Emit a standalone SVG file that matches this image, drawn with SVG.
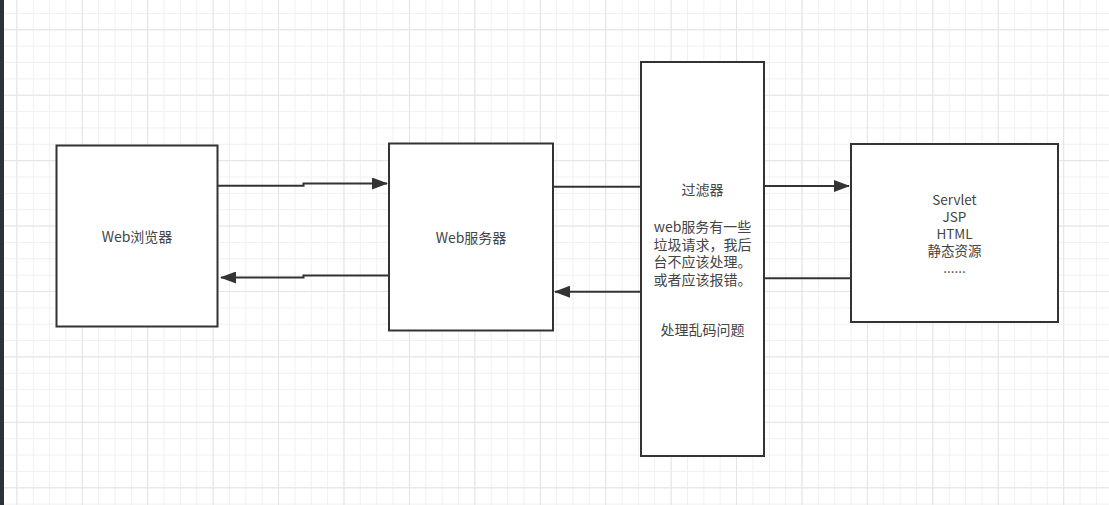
<svg xmlns="http://www.w3.org/2000/svg" width="1109" height="505" viewBox="0 0 1109 505">
<style>
.box{fill:#fff;stroke:#333;stroke-width:2}
.ln{fill:none;stroke:#333;stroke-width:2}
.t{font-family:"Noto Sans CJK SC","Microsoft YaHei",sans-serif;font-size:14px;fill:#444;text-anchor:middle}
.s{font-size:13.5px}
</style>
<defs>
<pattern id="minor" patternUnits="userSpaceOnUse" x="0" y="12.95" width="16.357" height="16.357">
<path d="M0 0.5H16.357M0.5 0V16.357" fill="none" stroke="#f0f0f0" stroke-width="1"/>
</pattern>
<pattern id="major" patternUnits="userSpaceOnUse" x="16.357" y="29.3" width="65.428" height="65.428">
<path d="M0 0.5H65.428M0.5 0V65.428" fill="none" stroke="#e4e4e4" stroke-width="1"/>
</pattern>
<marker id="ah" markerUnits="userSpaceOnUse" markerWidth="16" markerHeight="12" refX="15" refY="6" orient="auto">
<path d="M0 0L16 6L0 12Z" fill="#333"/>
</marker>
</defs>
<rect width="1109" height="505" fill="#fff"/>
<rect width="1109" height="505" fill="url(#minor)"/>
<rect width="1109" height="505" fill="url(#major)"/>
<rect x="0" y="0" width="4" height="505" fill="#2d3236"/>
<g id="connectors">
<path class="ln" d="M218 185.7H303.5V183.5H387" marker-end="url(#ah)"/>
<path class="ln" d="M389 275.5H303.5V277.5H221" marker-end="url(#ah)"/>
<path class="ln" d="M553 186.7H641"/>
<path class="ln" d="M764 186H849" marker-end="url(#ah)"/>
<path class="ln" d="M851 278.3H764"/>
<path class="ln" d="M641 291.7H555" marker-end="url(#ah)"/>
</g>
<g id="browser">
<rect class="box" x="56.5" y="145.5" width="161" height="181"/>
<text class="t" x="137" y="242">Web浏览器</text>
</g>
<g id="server">
<rect class="box" x="389" y="143.5" width="164" height="187"/>
<text class="t" x="471" y="243">Web服务器</text>
</g>
<g id="filter">
<rect class="box" x="641" y="62" width="123" height="394"/>
<text class="t" x="702.5" y="195">过滤器</text>
<text class="t" x="702.5" y="232">web服务有一些</text>
<text class="t" x="702.5" y="249.5">垃圾请求，我后</text>
<text class="t" x="702.5" y="267">台不应该处理。</text>
<text class="t" x="702.5" y="284.5">或者应该报错。</text>
<text class="t" x="702.5" y="335">处理乱码问题</text>
</g>
<g id="resources">
<rect class="box" x="851" y="144" width="207" height="178"/>
<text class="t s" x="954.5" y="205">Servlet</text>
<text class="t s" x="954.5" y="222">JSP</text>
<text class="t s" x="954.5" y="239">HTML</text>
<text class="t s" x="954.5" y="256">静态资源</text>
<text class="t s" x="954.5" y="273">......</text>
</g>
</svg>
